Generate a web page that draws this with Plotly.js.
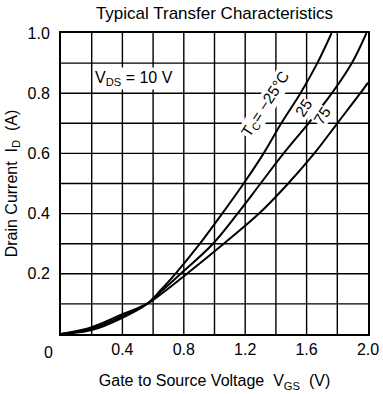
<!DOCTYPE html>
<html>
<head>
<meta charset="utf-8">
<script src="https://cdn.plot.ly/plotly-3.0.1.min.js"></script>
<style>html,body{margin:0;padding:0;background:#fff;}#chart{width:383px;height:394px;}</style>
</head>
<body>
<div id="chart"></div>
<script>
// Gate-source voltage (V) and drain current (A)
const vgsM25 = [0, 0.2, 0.4, 0.56, 0.65, 0.745, 0.905, 1.05, 1.19, 1.32, 1.435, 1.56, 1.67, 1.763];
const idM25  = [0, 0.013, 0.054, 0.1, 0.146, 0.2, 0.3, 0.4, 0.5, 0.6, 0.7, 0.8, 0.9, 1.0];

const vgs25 = [0, 0.2, 0.4, 0.56, 0.65, 0.78, 0.99, 1.15, 1.30, 1.45, 1.612, 1.765, 1.895, 1.99];
const id25  = [0, 0.018, 0.06, 0.1, 0.14, 0.2, 0.3, 0.4, 0.5, 0.6, 0.7, 0.8, 0.9, 1.0];

const vgs75 = [0, 0.2, 0.4, 0.56, 0.65, 0.82, 1.06, 1.29, 1.48, 1.65, 1.80, 1.95, 2.0];
const id75  = [0, 0.023, 0.066, 0.1, 0.132, 0.2, 0.3, 0.4, 0.5, 0.6, 0.7, 0.8, 0.835];

const xTickVals = [0.4, 0.8, 1.2, 1.6, 2.0];
const xTickText = ['0.4', '0.8', '1.2', '1.6', '2.0'];
const xGridVals = [0.2, 0.4, 0.6, 0.8, 1.0, 1.2, 1.4, 1.6, 1.8];
const yTickVals = [0.2, 0.4, 0.6, 0.8, 1.0];
const yTickText = ['0.2', '0.4', '0.6', '0.8', '1.0'];
const yGridVals = [0.1, 0.2, 0.3, 0.4, 0.5, 0.6, 0.7, 0.8, 0.9];

const FONT = 'Liberation Sans, Arial, sans-serif';
const lineStyle = {color: '#000', width: 2, shape: 'spline', smoothing: 1};

const traces = [
  {x: vgsM25, y: idM25, mode: 'lines', line: lineStyle, hoverinfo: 'skip'},
  {x: vgs25, y: id25, mode: 'lines', line: lineStyle, hoverinfo: 'skip'},
  {x: vgs75, y: id75, mode: 'lines', line: lineStyle, hoverinfo: 'skip'}
];

const gridShapes = [
  ...xGridVals.map(v => ({type: 'line', xref: 'x', yref: 'paper', x0: v, x1: v, y0: 0, y1: 1,
                          line: {color: '#000', width: 1.4}, layer: 'below'})),
  ...yGridVals.map(v => ({type: 'line', xref: 'paper', yref: 'y', x0: 0, x1: 1, y0: v, y1: v,
                          line: {color: '#000', width: 1.4}, layer: 'below'}))
];

const labelFont = {family: FONT, size: 15.5, color: '#000'};

const layout = {
  width: 383, height: 394,
  margin: {l: 61, r: 15, t: 33, b: 60},
  paper_bgcolor: '#fff', plot_bgcolor: '#fff',
  showlegend: false,
  font: {family: FONT, color: '#000', size: 16},
  title: {text: 'Typical Transfer Characteristics', font: {family: FONT, size: 17, color: '#000'},
          x: 0.56, xanchor: 'center', y: 0.968, yanchor: 'middle'},
  xaxis: {
    range: [0, 2.0], tickmode: 'array', tickvals: xTickVals, ticktext: xTickText,
    showgrid: false,
    showline: true, linecolor: '#000', linewidth: 2, mirror: true,
    ticks: '', zeroline: false, fixedrange: true,
    tickfont: {family: FONT, size: 16, color: '#000'},
    title: {text: 'Gate to Source Voltage  V<sub>GS</sub>  (V)', font: {family: FONT, size: 16, color: '#000'}, standoff: 18}
  },
  yaxis: {
    range: [0, 1.0], tickmode: 'array', tickvals: yTickVals, ticktext: yTickText,
    showgrid: false,
    showline: true, linecolor: '#000', linewidth: 2, mirror: true,
    ticks: '', zeroline: false, fixedrange: true,
    ticklabelstandoff: 6,
    tickfont: {family: FONT, size: 16, color: '#000'},
    title: {text: 'Drain Current  I<sub>D</sub>  (A)', font: {family: FONT, size: 16, color: '#000'}, standoff: 6}
  },
  shapes: gridShapes,
  annotations: [
    {xref: 'paper', yref: 'paper', x: -0.042, y: -0.06, text: '0', showarrow: false,
     font: {family: FONT, size: 16, color: '#000'}, xanchor: 'center', yanchor: 'middle'},
    {xref: 'x', yref: 'y', x: 0.21, y: 0.85, text: 'V<sub>DS</sub> = 10 V', showarrow: false,
     bgcolor: '#fff', borderpad: 1,
     font: {family: FONT, size: 16, color: '#000'}, xanchor: 'left', yanchor: 'middle'},
    {xref: 'x', yref: 'y', x: 1.335, y: 0.762, text: 'T<sub>C</sub>= \u221225\u00b0C', showarrow: false,
     bgcolor: '#fff', borderpad: 0,
     textangle: -57, font: labelFont, xanchor: 'center', yanchor: 'middle'},
    {xref: 'x', yref: 'y', x: 1.582, y: 0.752, text: '25', showarrow: false,
     bgcolor: '#fff', borderpad: 0,
     textangle: -57, font: labelFont, xanchor: 'center', yanchor: 'middle'},
    {xref: 'x', yref: 'y', x: 1.70, y: 0.727, text: '75', showarrow: false,
     bgcolor: '#fff', borderpad: 0,
     textangle: -57, font: labelFont, xanchor: 'center', yanchor: 'middle'}
  ]
};

Plotly.newPlot('chart', traces, layout, {displayModeBar: false, staticPlot: true});
</script>
</body>
</html>
